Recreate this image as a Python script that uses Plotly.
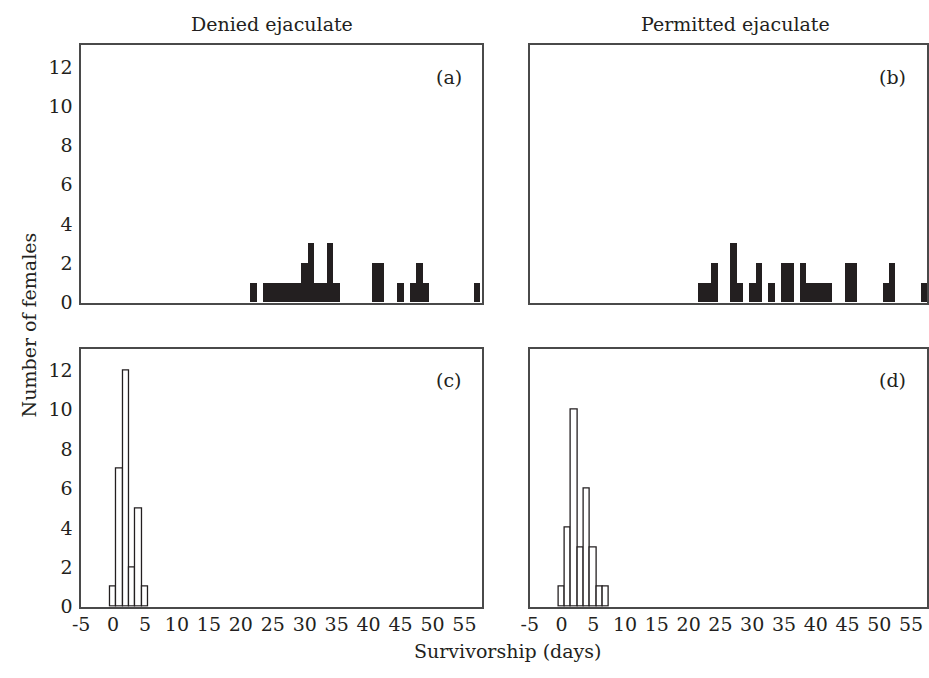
import plotly.graph_objects as go

# Panel (a): denied ejaculate, "filled" group
days_a = [22, 24, 25, 26, 27, 28, 29, 30, 31, 32, 33, 34, 35, 41, 42, 45, 47, 48, 49, 57]
counts_a = [1, 1, 1, 1, 1, 1, 1, 2, 3, 1, 1, 3, 1, 2, 2, 1, 1, 2, 1, 1]
# Panel (b): permitted ejaculate, "filled" group
days_b = [22, 23, 24, 27, 28, 30, 31, 33, 35, 36, 38, 39, 40, 41, 42, 45, 46, 51, 52, 57]
counts_b = [1, 1, 2, 3, 1, 1, 2, 1, 2, 2, 2, 1, 1, 1, 1, 2, 2, 1, 2, 1]
# Panel (c): denied ejaculate, open group
days_c = [0, 1, 2, 3, 4, 5]
counts_c = [1, 7, 12, 2, 5, 1]
# Panel (d): permitted ejaculate, open group
days_d = [0, 1, 2, 3, 4, 5, 6, 7]
counts_d = [1, 4, 10, 3, 6, 3, 1, 1]

x_ticks = [-5, 0, 5, 10, 15, 20, 25, 30, 35, 40, 45, 50, 55]
y_ticks = [0, 2, 4, 6, 8, 10, 12]
col_titles = ["Denied ejaculate", "Permitted ejaculate"]
panel_labels = ["(a)", "(b)", "(c)", "(d)"]

FONT = "DejaVu Serif"
DARK = "#231f20"
LINE = "#4a4a4a"
W, H = 929, 678

fig = go.Figure()

panels = [
    (days_a, counts_a, "x", "y", DARK),
    (days_b, counts_b, "x2", "y2", DARK),
    (days_c, counts_c, "x3", "y3", "white"),
    (days_d, counts_d, "x4", "y4", "white"),
]
for d, c, xa, ya, fill in panels:
    fig.add_trace(go.Bar(
        x=d, y=c, width=1, xaxis=xa, yaxis=ya,
        marker=dict(color=fill, line=dict(color=DARK, width=1.3 if fill == "white" else 0)),
        showlegend=False, hoverinfo="x+y",
    ))

def px_x(p):
    return p / W

def px_y(p):
    return 1 - p / H

left_dom = [px_x(73), px_x(479)]
right_dom = [px_x(527), 1.0]
top_dom = [px_y(307.5), px_y(46)]
bot_dom = [px_y(616.7), px_y(354.3)]

axis_common = dict(showline=True, linecolor=LINE, linewidth=1.5, mirror=True,
                   showgrid=False, zeroline=False, ticks="",
                   tickfont=dict(family=FONT, size=19, color="#231f20"))

xcfg = dict(axis_common, tickvals=x_ticks, ticktext=[str(v) for v in x_ticks])
ycfg = dict(axis_common, tickvals=y_ticks, range=[0, 13.1])

fig.update_layout(
    width=W, height=H, autosize=False,
    margin=dict(l=0, r=0, t=0, b=0),
    paper_bgcolor="white", plot_bgcolor="white",
    bargap=0,
    xaxis=dict(xcfg, domain=left_dom, range=[-5, 57.8], anchor="y", showticklabels=False),
    yaxis=dict(ycfg, domain=top_dom, anchor="x", ticklabelstandoff=3),
    xaxis2=dict(xcfg, domain=right_dom, range=[-5, 57.5], anchor="y2", showticklabels=False),
    yaxis2=dict(ycfg, domain=top_dom, anchor="x2", showticklabels=False),
    xaxis3=dict(xcfg, domain=left_dom, range=[-5, 57.8], anchor="y3", ticklabelstandoff=0),
    yaxis3=dict(ycfg, domain=bot_dom, anchor="x3", ticklabelstandoff=3),
    xaxis4=dict(xcfg, domain=right_dom, range=[-5, 57.5], anchor="y4", ticklabelstandoff=0),
    yaxis4=dict(ycfg, domain=bot_dom, anchor="x4", showticklabels=False),
)

def ann(text, cx, cy, angle=0):
    return dict(text=text, x=px_x(cx), y=px_y(cy), xref="paper", yref="paper",
                xanchor="center", yanchor="middle", showarrow=False, textangle=angle,
                font=dict(family=FONT, size=19, color=DARK))

anns = [ann(col_titles[0], 266, 24), ann(col_titles[1], 735, 24)]
for lab, (cx, cy) in zip(panel_labels, [(445, 78), (894, 78), (445, 386), (894, 386)]):
    anns.append(ann(lab, cx, cy))
anns.append(ann("Number of females", 20, 330, -90))
anns.append(ann("Survivorship (days)", 504, 662))
fig.update_layout(annotations=anns)

fig.write_html("out.html")
